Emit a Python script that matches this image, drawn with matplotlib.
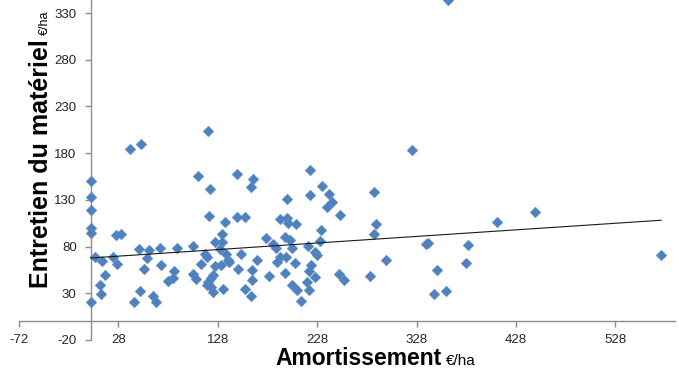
import numpy as np
import matplotlib.pyplot as plt

plt.rcParams['axes.unicode_minus'] = False

# Amortissement (€/ha) vs Entretien du matériel (€/ha)
amortissement = [
    40, 51, 0, 0, 0, 0, 0, 26, 31, 4, 12, 23, 27, 49, 59, 57, 70, 87, 71, 54,
    15, 84, 83, 78, 9, 11, 0, 50, 44, 63, 66,
    118, 108, 147, 163, 161, 120, 221, 233, 221, 240, 243, 238, 251, 198, 285,
    119, 135, 147, 155, 191, 198, 199, 207, 287, 285, 232, 103, 132, 125, 132,
    115, 117, 130, 136, 138, 139, 151, 167, 177, 184, 187, 196, 201, 203, 219,
    231, 226, 228, 191, 197, 188, 206, 111, 125, 131, 148, 162, 103, 106, 123,
    121, 118, 117, 121, 123, 133, 155, 161, 162, 180, 196, 203, 208, 212, 220,
    218, 220, 222, 226, 250, 255, 281,
    360, 323, 337, 339, 380, 409, 447, 574, 297, 349, 378, 346, 358,
]
entretien = [
    184, 190, 150, 133, 119, 100, 95, 92, 94, 69, 65, 69, 61, 77, 76, 68, 78, 79, 60, 56,
    50, 54, 46, 43, 39, 29, 21, 32, 21, 27, 21,
    204, 156, 158, 152, 144, 142, 162, 145, 135, 136, 128, 122, 114, 131, 138,
    113, 106, 112, 112, 110, 111, 105, 104, 104, 93, 98, 81, 93, 85, 85,
    72, 69, 77, 72, 66, 63, 72, 66, 89, 83, 78, 90, 87, 78, 81,
    86, 74, 71, 69, 69, 63, 62, 61, 59, 60, 56, 55, 51, 45, 50,
    46, 42, 39, 37, 31, 35, 35, 27, 44, 48, 52, 39, 34, 22, 33,
    42, 54, 60, 47, 51, 44, 48,
    344, 183, 83, 84, 82, 106, 117, 71, 66, 55, 62, 29, 32,
]

# linear trend line
trend_intercept = 67.8
trend_slope = 0.0704

xticks = [-72, 28, 128, 228, 328, 428, 528]
yticks = [-20, 30, 80, 130, 180, 230, 280, 330]

W, H = 679, 373
fig = plt.figure(figsize=(W / 100, H / 100), dpi=100)
ax = fig.add_axes([19 / W, 33 / H, 656 / W, 340 / H])

ax.scatter(amortissement, entretien, marker='D', s=30, color='#4F81BD',
           edgecolors='#5B8CC8', linewidths=0.3, zorder=3, clip_on=True)

tx = np.array([min(amortissement), max(amortissement)])
ax.plot(tx, trend_intercept + trend_slope * tx, color='#1a1a1a', lw=0.8, zorder=4)

ax.set_xlim(-72, 588)
ax.set_ylim(-20, 344)
ax.set_xticks(xticks)
ax.set_yticks(yticks)

for s in ['top', 'right']:
    ax.spines[s].set_visible(False)
ax.spines['left'].set_position(('data', 0))
ax.spines['bottom'].set_position(('data', 0))
for s in ['left', 'bottom']:
    ax.spines[s].set_color('#8c8c8c')
    ax.spines[s].set_linewidth(1.0)

ax.tick_params(axis='both', direction='out', length=4, width=1.0, color='#8c8c8c',
               labelsize=9.5, labelcolor='#262626')
ax.tick_params(axis='x', pad=5)
ax.tick_params(axis='y', pad=6)
for lab in ax.get_xticklabels() + ax.get_yticklabels():
    lab.set_fontfamily('Liberation Sans')

# axis titles
fig.text(275 / W, 8 / H, 'Amortissement', fontsize=16.5, fontweight='bold',
         family='Liberation Sans', ha='left', va='baseline')
fig.text(446 / W, 8 / H, '€/ha', fontsize=11, family='Liberation Sans',
         ha='left', va='baseline')
fig.text(48 / W, (H - 288) / H, 'Entretien du matériel', fontsize=18, fontweight='bold',
         family='Liberation Sans', rotation=90, rotation_mode='anchor',
         ha='left', va='baseline')
fig.text(48 / W, (H - 35) / H, '€/ha', fontsize=9, family='Liberation Sans',
         rotation=90, rotation_mode='anchor', ha='left', va='baseline')

fig.savefig('out.png', dpi=100)
